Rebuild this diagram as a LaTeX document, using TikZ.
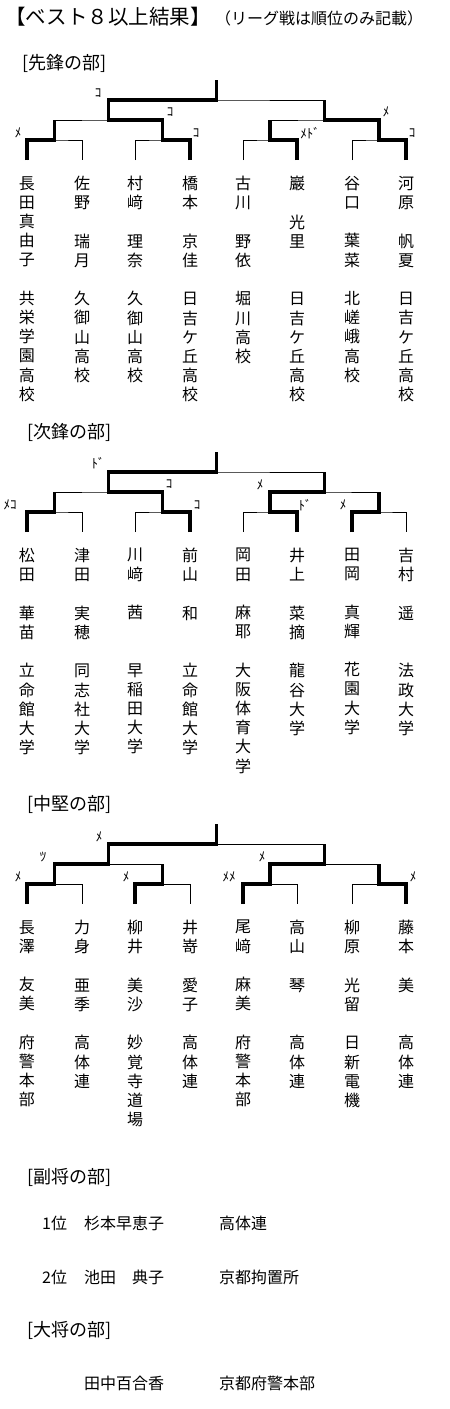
\documentclass[tikz,border=0pt]{standalone}
\usepackage{fontspec}
\setmainfont{Noto Sans CJK JP}
\usetikzlibrary{positioning}

\begin{document}
\begin{tikzpicture}[
  x=1pt, y=-1pt,
  node distance = 16pt,
  line/.style  = {line width=0.8pt},
  win/.style   = {line width=3.2pt, line join=miter},
  entry/.style = {anchor=north, inner sep=0pt, align=center,
                  font=\fontsize{16}{19.2}\selectfont},
  res/.style   = {inner sep=0pt, font=\fontsize{13}{13}\selectfont},
  head/.style  = {anchor=west, inner sep=0pt, font=\fontsize{18}{18}\selectfont},
  rank/.style  = {anchor=west, inner sep=0pt, font=\fontsize{16}{16}\selectfont}
]
\useasboundingbox (0,0) rectangle (450,1409);
% Title
\node[inner sep=0pt, font=\fontsize{20.5}{20.5}\selectfont] (title) at (108,17) {【ベスト８以上結果】};
\node[inner sep=0pt, font=\fontsize{16}{16}\selectfont] (note) at (319,18) {（リーグ戦は順位のみ記載）};

% ---------------- Senpo ----------------
\node[head] (hA) at (22,63) {[先鋒の部]};
\coordinate (a-l1) at (27,160);  \coordinate (a-l2) at (82,160);
\coordinate (a-l3) at (135,160); \coordinate (a-l4) at (190,160);
\coordinate (a-l5) at (243,160); \coordinate (a-l6) at (297,160);
\coordinate (a-l7) at (352,160); \coordinate (a-l8) at (406,160);
\coordinate (a-m1) at (54.5,140);  \coordinate (a-m2) at (162.5,140);
\coordinate (a-m3) at (270,140);   \coordinate (a-m4) at (379,140);
\coordinate (a-s1) at (108.5,120); \coordinate (a-s2) at (324.5,120);
\coordinate (a-f)  at (216.5,100); \coordinate (a-top) at (216.5,80);
\draw[line] (a-l1) |- (a-m1) -| (a-l2);
\draw[line] (a-l3) |- (a-m2) -| (a-l4);
\draw[line] (a-l5) |- (a-m3) -| (a-l6);
\draw[line] (a-l7) |- (a-m4) -| (a-l8);
\draw[line] (a-m1) |- (a-s1) -| (a-m2);
\draw[line] (a-m3) |- (a-s2) -| (a-m4);
\draw[line] (a-s1) |- (a-f) -| (a-s2);
\draw[win] (a-l1) |- (a-m1) -- (a-m1 |- a-s1);
\draw[win] (a-l4) |- (a-m2) |- (a-s1) |- (a-f) -- (a-top);
\draw[win] (a-l6) |- (a-m3) -- (a-m3 |- a-s2);
\draw[win] (a-l8) |- (a-m4) |- (a-s2) -- (a-s2 |- a-f);
\node[res] (a-r1) at (18,133)  {ﾒ};
\node[res] (a-r2) at (196,133) {ｺ};
\node[res] (a-r3) at (310,133) {ﾒﾄﾞ};
\node[res] (a-r4) at (412,133) {ｺ};
\node[res] (a-r5) at (170,112) {ｺ};
\node[res] (a-r6) at (386,112) {ﾒ};
\node[res] (a-r7) at (98,93)   {ｺ};
\node[entry, below=of a-l1] (a1) {長\\田\\真\\由\\子\\　\\共\\栄\\学\\園\\高\\校};
\node[entry, below=of a-l2] (a2) {佐\\野\\　\\瑞\\月\\　\\久\\御\\山\\高\\校};
\node[entry, below=of a-l3] (a3) {村\\﨑\\　\\理\\奈\\　\\久\\御\\山\\高\\校};
\node[entry, below=of a-l4] (a4) {橋\\本\\　\\京\\佳\\　\\日\\吉\\ケ\\丘\\高\\校};
\node[entry, below=of a-l5] (a5) {古\\川\\　\\野\\依\\　\\堀\\川\\高\\校};
\node[entry, below=of a-l6] (a6) {巖\\　\\光\\里\\　\\　\\日\\吉\\ケ\\丘\\高\\校};
\node[entry, below=of a-l7] (a7) {谷\\口\\　\\葉\\菜\\　\\北\\嵯\\峨\\高\\校};
\node[entry, below=of a-l8] (a8) {河\\原\\　\\帆\\夏\\　\\日\\吉\\ケ\\丘\\高\\校};

% ---------------- Jiho ----------------
\node[head] (hB) at (27,432) {[次鋒の部]};
\coordinate (b-l1) at (27,532);  \coordinate (b-l2) at (82,532);
\coordinate (b-l3) at (135,532); \coordinate (b-l4) at (190,532);
\coordinate (b-l5) at (243,532); \coordinate (b-l6) at (297,532);
\coordinate (b-l7) at (352,532); \coordinate (b-l8) at (406,532);
\coordinate (b-m1) at (54.5,512);  \coordinate (b-m2) at (162.5,512);
\coordinate (b-m3) at (270,512);   \coordinate (b-m4) at (379,512);
\coordinate (b-s1) at (108.5,492); \coordinate (b-s2) at (324.5,492);
\coordinate (b-f)  at (216.5,472); \coordinate (b-top) at (216.5,452);
\draw[line] (b-l1) |- (b-m1) -| (b-l2);
\draw[line] (b-l3) |- (b-m2) -| (b-l4);
\draw[line] (b-l5) |- (b-m3) -| (b-l6);
\draw[line] (b-l7) |- (b-m4) -| (b-l8);
\draw[line] (b-m1) |- (b-s1) -| (b-m2);
\draw[line] (b-m3) |- (b-s2) -| (b-m4);
\draw[line] (b-s1) |- (b-f) -| (b-s2);
\draw[win] (b-l1) |- (b-m1) -- (b-m1 |- b-s1);
\draw[win] (b-l4) |- (b-m2) |- (b-s1) |- (b-f) -- (b-top);
\draw[win] (b-l6) |- (b-m3) |- (b-s2) -- (b-s2 |- b-f);
\draw[win] (b-l7) |- (b-m4) -- (b-m4 |- b-s2);
\node[res] (b-r1) at (10,505)  {ﾒｺ};
\node[res] (b-r2) at (197,505) {ｺ};
\node[res] (b-r3) at (305,505) {ﾄﾞ};
\node[res] (b-r4) at (343,505) {ﾒ};
\node[res] (b-r5) at (169,484) {ｺ};
\node[res] (b-r6) at (260,485) {ﾒ};
\node[res] (b-r7) at (98,463)  {ﾄﾞ};
\node[entry, below=of b-l1] (b1) {松\\田\\　\\華\\苗\\　\\立\\命\\館\\大\\学};
\node[entry, below=of b-l2] (b2) {津\\田\\　\\実\\穂\\　\\同\\志\\社\\大\\学};
\node[entry, below=of b-l3] (b3) {川\\﨑\\　\\茜\\　\\　\\早\\稲\\田\\大\\学};
\node[entry, below=of b-l4] (b4) {前\\山\\　\\和\\　\\　\\立\\命\\館\\大\\学};
\node[entry, below=of b-l5] (b5) {岡\\田\\　\\麻\\耶\\　\\大\\阪\\体\\育\\大\\学};
\node[entry, below=of b-l6] (b6) {井\\上\\　\\菜\\摘\\　\\龍\\谷\\大\\学};
\node[entry, below=of b-l7] (b7) {田\\岡\\　\\真\\輝\\　\\花\\園\\大\\学};
\node[entry, below=of b-l8] (b8) {吉\\村\\　\\遥\\　\\　\\法\\政\\大\\学};

% ---------------- Chuken ----------------
\node[head] (hC) at (27,804) {[中堅の部]};
\coordinate (c-l1) at (27,904);  \coordinate (c-l2) at (82,904);
\coordinate (c-l3) at (135,904); \coordinate (c-l4) at (190,904);
\coordinate (c-l5) at (243,904); \coordinate (c-l6) at (297,904);
\coordinate (c-l7) at (352,904); \coordinate (c-l8) at (406,904);
\coordinate (c-m1) at (54.5,884);  \coordinate (c-m2) at (162.5,884);
\coordinate (c-m3) at (270,884);   \coordinate (c-m4) at (379,884);
\coordinate (c-s1) at (108.5,864); \coordinate (c-s2) at (324.5,864);
\coordinate (c-f)  at (216.5,844); \coordinate (c-top) at (216.5,824);
\draw[line] (c-l1) |- (c-m1) -| (c-l2);
\draw[line] (c-l3) |- (c-m2) -| (c-l4);
\draw[line] (c-l5) |- (c-m3) -| (c-l6);
\draw[line] (c-l7) |- (c-m4) -| (c-l8);
\draw[line] (c-m1) |- (c-s1) -| (c-m2);
\draw[line] (c-m3) |- (c-s2) -| (c-m4);
\draw[line] (c-s1) |- (c-f) -| (c-s2);
\draw[win] (c-l1) |- (c-m1) |- (c-s1) |- (c-f) -- (c-top);
\draw[win] (c-l3) |- (c-m2) -- (c-m2 |- c-s1);
\draw[win] (c-l5) |- (c-m3) |- (c-s2) -- (c-s2 |- c-f);
\draw[win] (c-l8) |- (c-m4) -- (c-m4 |- c-s2);
\node[res] (c-r1) at (18,877)  {ﾒ};
\node[res] (c-r2) at (126,877) {ﾒ};
\node[res] (c-r3) at (229,877) {ﾒﾒ};
\node[res] (c-r4) at (413,877) {ﾒ};
\node[res] (c-r5) at (43,857)  {ﾂ};
\node[res] (c-r6) at (262,857) {ﾒ};
\node[res] (c-r7) at (99,837)  {ﾒ};
\node[entry, below=of c-l1] (c1) {長\\澤\\　\\友\\美\\　\\府\\警\\本\\部};
\node[entry, below=of c-l2] (c2) {力\\身\\　\\亜\\季\\　\\高\\体\\連};
\node[entry, below=of c-l3] (c3) {柳\\井\\　\\美\\沙\\　\\妙\\覚\\寺\\道\\場};
\node[entry, below=of c-l4] (c4) {井\\嵜\\　\\愛\\子\\　\\高\\体\\連};
\node[entry, below=of c-l5] (c5) {尾\\﨑\\　\\麻\\美\\　\\府\\警\\本\\部};
\node[entry, below=of c-l6] (c6) {高\\山\\　\\琴\\　\\　\\高\\体\\連};
\node[entry, below=of c-l7] (c7) {柳\\原\\　\\光\\留\\　\\日\\新\\電\\機};
\node[entry, below=of c-l8] (c8) {藤\\本\\　\\美\\　\\　\\高\\体\\連};

% ---------------- Fukusho / Taisho ----------------
\node[head] (hD) at (27,1177) {[副将の部]};
\node[rank] (d1)  at (42,1223)  {1位};
\node[rank] (d1n) at (84,1223)  {杉本早恵子};
\node[rank] (d1s) at (219,1223) {高体連};
\node[rank] (d2)  at (42,1277)  {2位};
\node[rank] (d2n) at (84,1277)  {池田　典子};
\node[rank] (d2s) at (219,1277) {京都拘置所};
\node[head] (hE) at (27,1330) {[大将の部]};
\node[rank] (e1n) at (84,1383)  {田中百合香};
\node[rank] (e1s) at (219,1383) {京都府警本部};
\end{tikzpicture}
\end{document}
